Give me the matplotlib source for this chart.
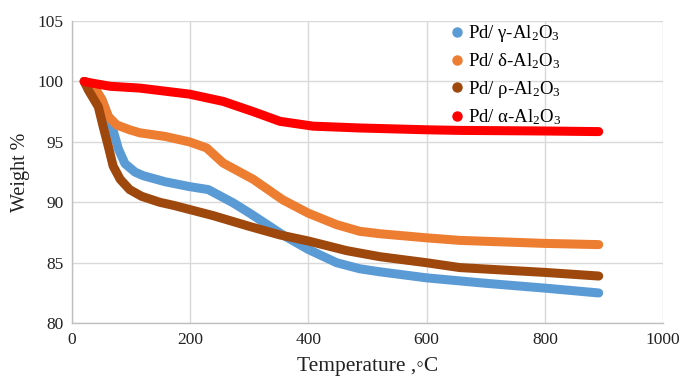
import matplotlib
matplotlib.use("Agg")
import matplotlib.pyplot as plt
from matplotlib.lines import Line2D

plt.rcParams['font.family'] = ['Liberation Serif', 'DejaVu Serif']
plt.rcParams['mathtext.fontset'] = 'custom'
plt.rcParams['mathtext.rm'] = 'Liberation Serif'
plt.rcParams['mathtext.it'] = 'Liberation Serif:italic'

# Data
t_gamma = [21, 35, 51, 68, 79, 90, 107, 121, 158, 199, 231, 273, 301, 357, 400, 448, 487, 521, 600, 700, 800, 891]
w_gamma = [100, 99.6, 98.5, 96.3, 94.4, 93.2, 92.5, 92.2, 91.7, 91.3, 91.05, 89.95, 89.1, 87.3, 86.1, 85.0, 84.5, 84.25, 83.75, 83.3, 82.9, 82.5]

t_delta = [21, 40, 51, 62, 76, 98, 115, 158, 199, 228, 256, 307, 357, 400, 448, 487, 521, 600, 656, 800, 891]
w_delta = [100, 99.4, 98.5, 97.1, 96.4, 96.0, 95.75, 95.45, 95.0, 94.5, 93.25, 91.9, 90.2, 89.1, 88.15, 87.6, 87.4, 87.06, 86.85, 86.6, 86.5]

t_rho = [21, 28, 45, 53, 62, 70, 82, 98, 118, 149, 172, 239, 301, 352, 400, 465, 521, 600, 656, 800, 891]
w_rho = [100, 99.3, 97.9, 96.3, 94.6, 93.0, 91.9, 91.05, 90.5, 90.0, 89.75, 88.9, 88.0, 87.3, 86.8, 86.0, 85.5, 85.0, 84.6, 84.2, 83.9]

t_alpha = [21, 30, 65, 115, 199, 256, 307, 352, 408, 487, 600, 656, 800, 891]
w_alpha = [100, 99.9, 99.6, 99.45, 98.95, 98.35, 97.5, 96.7, 96.3, 96.15, 96.0, 95.95, 95.9, 95.85]

labels = ['Pd/ γ-Al$_2$O$_3$', 'Pd/ δ-Al$_2$O$_3$', 'Pd/ ρ-Al$_2$O$_3$', 'Pd/ α-Al$_2$O$_3$']
colors = ['#5B9BD5', '#ED7D31', '#9E480E', '#FF0000']

x_ticks = [0, 200, 400, 600, 800, 1000]
y_ticks = [80, 85, 90, 95, 100, 105]

fig = plt.figure(figsize=(6.83, 3.82), dpi=100)
ax = fig.add_axes([0.105, 0.154, 0.866, 0.791])

series = [(t_gamma, w_gamma), (t_delta, w_delta), (t_rho, w_rho), (t_alpha, w_alpha)]
for (t, w), c in zip(series, colors):
    ax.plot(t, w, color=c, lw=6.5, solid_capstyle='round', solid_joinstyle='round', zorder=3)

ax.set_xlim(0, 1000)
ax.set_ylim(80, 105)
ax.set_xticks(x_ticks)
ax.set_yticks(y_ticks)
ax.tick_params(length=0, labelsize=12.5, colors='#222222', pad=6)
ax.grid(True, color='#d9d9d9', lw=1)
ax.set_axisbelow(True)
for s in ['top', 'right']:
    ax.spines[s].set_visible(False)
for s in ['left', 'bottom']:
    ax.spines[s].set_color('#bfbfbf')
    ax.spines[s].set_linewidth(1)

ax.set_xlabel('Temperature ,◦C', fontsize=15.5, color='#222222', labelpad=7)
ax.set_ylabel('Weight %', fontsize=14.5, color='#222222', labelpad=5)

handles = [Line2D([], [], marker='o', linestyle='', color=c, markersize=6.5) for c in colors]
ax.legend(handles, labels, loc='upper left', bbox_to_anchor=(0.62, 1.018), frameon=False,
          fontsize=13.5, handletextpad=0.0, labelspacing=0.40, handlelength=1.2,
          borderaxespad=0)

fig.savefig('out.png', dpi=100)
